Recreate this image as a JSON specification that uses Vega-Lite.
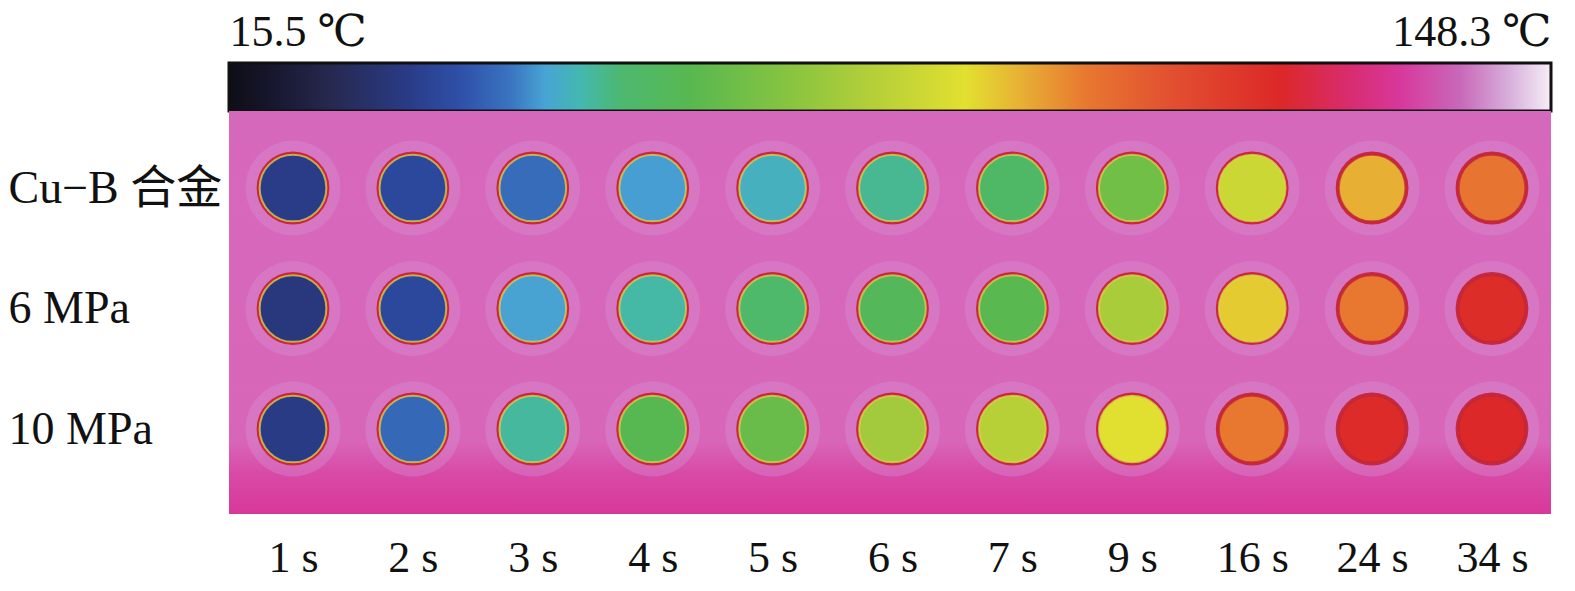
{
  "$schema": "https://vega.github.io/schema/vega-lite/v6.json",
  "autosize": {"type": "pad"},
  "padding": {"left": 8, "top": 10, "right": 24, "bottom": 10},
  "background": "white",
  "bounds": "flush",
  "spacing": 0,
  "config": {"view": {"stroke": null}, "font": "Times New Roman, Liberation Serif, DejaVu Serif, serif"},
  "vconcat": [
    {
      "width": 1322,
      "height": 48,
      "data": {"values": [{"low": 15.5, "high": 148.3}]},
      "mark": {
        "type": "rect",
        "color": {
          "gradient": "linear", "x1": 0, "x2": 1, "y1": 0, "y2": 0,
          "stops": [
            {"offset": 0, "color": "#0e0e16"},
            {"offset": 0.027, "color": "#15152a"},
            {"offset": 0.076, "color": "#26284e"},
            {"offset": 0.137, "color": "#2a3c88"},
            {"offset": 0.175, "color": "#2e50a8"},
            {"offset": 0.213, "color": "#3a74c0"},
            {"offset": 0.239, "color": "#48a4d4"},
            {"offset": 0.266, "color": "#44b8b0"},
            {"offset": 0.296, "color": "#4cb870"},
            {"offset": 0.349, "color": "#58b850"},
            {"offset": 0.424, "color": "#88c440"},
            {"offset": 0.492, "color": "#b8d038"},
            {"offset": 0.557, "color": "#e2e030"},
            {"offset": 0.606, "color": "#e8a834"},
            {"offset": 0.648, "color": "#e87830"},
            {"offset": 0.712, "color": "#e25030"},
            {"offset": 0.795, "color": "#dc2828"},
            {"offset": 0.848, "color": "#d82c70"},
            {"offset": 0.886, "color": "#d8389c"},
            {"offset": 0.931, "color": "#c868b8"},
            {"offset": 0.969, "color": "#d8b0dc"},
            {"offset": 1, "color": "#f6eef6"}
          ]
        },
        "stroke": "#111111",
        "strokeWidth": 3
      },
      "encoding": {
        "x": {
          "field": "low", "type": "quantitative",
          "scale": {"domain": [15.5, 148.3], "nice": false, "zero": false},
          "axis": {
            "orient": "top", "values": [15.5, 148.3],
            "labelExpr": "datum.value + ' ℃'",
            "labelFlush": true, "ticks": false, "domain": false, "grid": false,
            "title": null, "labelFontSize": 44,
            "labelFont": "Times New Roman, Liberation Serif, DejaVu Serif, serif",
            "labelColor": "#111111", "labelBaseline": "alphabetic", "labelPadding": 18
          }
        },
        "x2": {"field": "high"}
      }
    },
    {
      "width": 1322,
      "height": 403,
      "view": {
        "fill": {
          "gradient": "linear", "x1": 0, "x2": 0, "y1": 0, "y2": 1,
          "stops": [
            {"offset": 0, "color": "#d668bc"},
            {"offset": 0.82, "color": "#d866b8"},
            {"offset": 0.9, "color": "#d84aa6"},
            {"offset": 1, "color": "#d8389a"}
          ]
        },
        "stroke": null
      },
      "data": {
        "values": [
          {"time": "1 s", "group": "Cu−B 合金", "temp": 33.7},
          {"time": "2 s", "group": "Cu−B 合金", "temp": 36.8},
          {"time": "3 s", "group": "Cu−B 合金", "temp": 42.7},
          {"time": "4 s", "group": "Cu−B 合金", "temp": 46.8},
          {"time": "5 s", "group": "Cu−B 合金", "temp": 49.4},
          {"time": "6 s", "group": "Cu−B 合金", "temp": 52.7},
          {"time": "7 s", "group": "Cu−B 合金", "temp": 56.7},
          {"time": "9 s", "group": "Cu−B 合金", "temp": 67.3},
          {"time": "16 s", "group": "Cu−B 合金", "temp": 84.6},
          {"time": "24 s", "group": "Cu−B 合金", "temp": 95.2},
          {"time": "34 s", "group": "Cu−B 合金", "temp": 102.5},
          {"time": "1 s", "group": "6 MPa", "temp": 32.1},
          {"time": "2 s", "group": "6 MPa", "temp": 36.8},
          {"time": "3 s", "group": "6 MPa", "temp": 47.1},
          {"time": "4 s", "group": "6 MPa", "temp": 51.4},
          {"time": "5 s", "group": "6 MPa", "temp": 56.0},
          {"time": "6 s", "group": "6 MPa", "temp": 59.3},
          {"time": "7 s", "group": "6 MPa", "temp": 62.0},
          {"time": "9 s", "group": "6 MPa", "temp": 77.9},
          {"time": "16 s", "group": "6 MPa", "temp": 91.9},
          {"time": "24 s", "group": "6 MPa", "temp": 101.6},
          {"time": "34 s", "group": "6 MPa", "temp": 119.7},
          {"time": "1 s", "group": "10 MPa", "temp": 33.4},
          {"time": "2 s", "group": "10 MPa", "temp": 42.1},
          {"time": "3 s", "group": "10 MPa", "temp": 52.0},
          {"time": "4 s", "group": "10 MPa", "temp": 61.3},
          {"time": "5 s", "group": "10 MPa", "temp": 65.3},
          {"time": "6 s", "group": "10 MPa", "temp": 76.6},
          {"time": "7 s", "group": "10 MPa", "temp": 80.6},
          {"time": "9 s", "group": "10 MPa", "temp": 89.2},
          {"time": "16 s", "group": "10 MPa", "temp": 101.6},
          {"time": "24 s", "group": "10 MPa", "temp": 120.4},
          {"time": "34 s", "group": "10 MPa", "temp": 121.1}
        ]
      },
      "encoding": {
        "x": {
          "field": "time", "type": "ordinal",
          "sort": ["1 s", "2 s", "3 s", "4 s", "5 s", "6 s", "7 s", "9 s", "16 s", "24 s", "34 s"],
          "scale": {"type": "point", "range": [64, 1263], "padding": 0},
          "axis": {
            "orient": "bottom", "ticks": false, "domain": false, "grid": false,
            "title": null, "labelAngle": 0, "labelFontSize": 44,
            "labelFont": "Times New Roman, Liberation Serif, DejaVu Serif, serif", "labelColor": "#111111",
            "labelBaseline": "alphabetic", "labelPadding": 57
          }
        },
        "y": {
          "field": "group", "type": "nominal",
          "sort": ["Cu−B 合金", "6 MPa", "10 MPa"],
          "scale": {"type": "point", "range": [77, 318], "padding": 0},
          "axis": {
            "ticks": false, "domain": false, "grid": false, "title": null,
            "labelAlign": "left", "labelPadding": 221, "labelBaseline": "middle",
            "labelFontSize": 46, "labelLimit": 400,
            "labelFont": "Times New Roman, Liberation Serif, Noto Sans CJK SC, serif", "labelColor": "#111111"
          }
        }
      },
      "layer": [
        {
          "mark": {"type": "circle", "size": 9000, "color": "#d896d8", "opacity": 0.35}
        },
        {
          "mark": {"type": "circle", "size": 5300, "color": "#c8283c", "opacity": 1}
        },
        {
          "mark": {"type": "circle", "size": 4450, "opacity": 1, "strokeWidth": 2, "strokeOpacity": 0.75},
          "encoding": {
            "color": {
              "field": "temp", "type": "quantitative", "legend": null,
              "scale": {
                "domain": [15.5, 19.1, 25.6, 33.7, 38.7, 43.8, 47.2, 50.8, 54.8, 61.8, 71.8, 80.8, 89.5, 96.0, 101.6, 110.1, 121.1, 128.1, 133.2, 139.1, 144.2, 148.3],
                "range": ["#0e0e16", "#15152a", "#26284e", "#2a3c88", "#2e50a8", "#3a74c0", "#48a4d4", "#44b8b0", "#4cb870", "#58b850", "#88c440", "#b8d038", "#e2e030", "#e8a834", "#e87830", "#e25030", "#dc2828", "#d82c70", "#d8389c", "#c868b8", "#d8b0dc", "#f6eef6"],
                "interpolate": "rgb"
              }
            },
            "stroke": {
              "condition": {"test": "datum.temp < 95", "value": "#dcd84a"},
              "value": "#c02838"
            }
          }
        }
      ]
    }
  ]
}
